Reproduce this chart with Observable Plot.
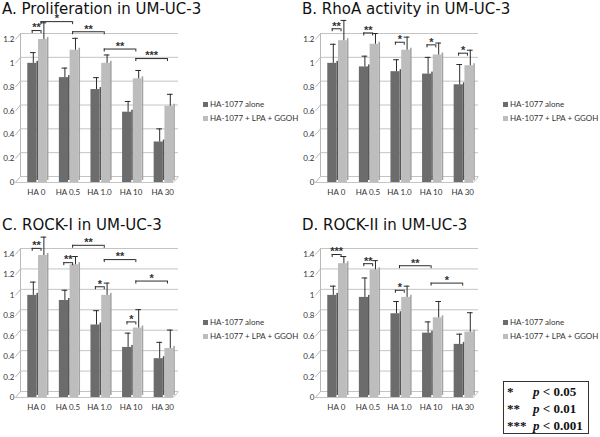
<!DOCTYPE html>
<html><head><meta charset="utf-8">
<script src="https://cdn.jsdelivr.net/npm/d3@7"></script>
<script src="https://cdn.jsdelivr.net/npm/@observablehq/plot@0.6"></script>
<style>
body{margin:0;background:#fff;}
#root{position:relative;width:600px;height:437px;overflow:hidden;background:#fff;}
.title{position:absolute;font-family:"DejaVu Sans",Verdana,sans-serif;font-size:15px;color:#111;white-space:nowrap;line-height:18px;z-index:2;}
.plot{position:absolute;}
.leg{position:absolute;font-family:Lato,sans-serif;font-size:8px;color:#333;white-space:nowrap;line-height:10px;}
.leg .sw{display:inline-block;width:5px;height:5px;margin-right:2px;vertical-align:0px;}
.pbox{position:absolute;left:503px;top:381px;width:84px;height:50px;border:1.5px solid #333;background:#fff;font-family:"Liberation Serif","Times New Roman",serif;font-weight:bold;font-size:13px;color:#111;line-height:17px;padding-top:1px;}
.pbox div{white-space:nowrap;padding-left:3px;}
.pbox .st{display:inline-block;width:26px;}
.pbox i{font-style:italic;}
</style>
</head><body><div id="root"></div>
<script>
const categories = ["HA 0", "HA 0.5", "HA 1.0", "HA 10", "HA 30"];
const seriesNames = ["HA-1077 alone", "HA-1077 + LPA + GGOH"];

const titles = ["A. Proliferation in UM-UC-3", "B. RhoA activity in UM-UC-3", "C. ROCK-I in UM-UC-3", "D. ROCK-II in UM-UC-3"];

const ticksAB = [0, 0.2, 0.4, 0.6, 0.8, 1, 1.2];
const ticksCD = [0, 0.2, 0.4, 0.6, 0.8, 1, 1.2, 1.4];

// A. Proliferation
const profAlone = [1.0, 0.88, 0.78, 0.59, 0.34];
const profAloneErr = [0.09, 0.08, 0.10, 0.09, 0.11];
const profCombo = [1.2, 1.11, 1.0, 0.87, 0.64];
const profComboErr = [0.14, 0.10, 0.07, 0.07, 0.10];
// [fromCategory, fromSeries, toCategory, toSeries, level, stars]
const profSig = [
  ["HA 0", "alone", "HA 0", "combo", 1.275, "**"],
  ["HA 0", "combo", "HA 0.5", "combo", 1.35, "*"],
  ["HA 0.5", "combo", "HA 1.0", "combo", 1.265, "**"],
  ["HA 1.0", "combo", "HA 10", "combo", 1.12, "**"],
  ["HA 10", "combo", "HA 30", "combo", 1.04, "***"]
];

// B. RhoA activity
const rhoAlone = [1.0, 0.97, 0.93, 0.91, 0.82];
const rhoAloneErr = [0.16, 0.09, 0.10, 0.14, 0.17];
const rhoCombo = [1.19, 1.16, 1.11, 1.07, 0.98];
const rhoComboErr = [0.17, 0.09, 0.11, 0.10, 0.13];
const rhoSig = [
  ["HA 0", "alone", "HA 0", "combo", 1.29, "**"],
  ["HA 0.5", "alone", "HA 0.5", "combo", 1.255, "**"],
  ["HA 1.0", "alone", "HA 1.0", "combo", 1.177, "*"],
  ["HA 10", "alone", "HA 10", "combo", 1.155, "*"],
  ["HA 30", "alone", "HA 30", "combo", 1.085, "*"]
];

// C. ROCK-I
const rock1Alone = [1.0, 0.95, 0.71, 0.49, 0.38];
const rock1AloneErr = [0.13, 0.10, 0.14, 0.14, 0.16];
const rock1Combo = [1.39, 1.30, 1.0, 0.68, 0.48];
const rock1ComboErr = [0.18, 0.08, 0.12, 0.18, 0.18];
const rock1Sig = [
  ["HA 0", "alone", "HA 0", "combo", 1.46, "**"],
  ["HA 0.5", "alone", "HA 0.5", "combo", 1.32, "**"],
  ["HA 0.5", "combo", "HA 1.0", "combo", 1.49, "**"],
  ["HA 1.0", "combo", "HA 10", "combo", 1.35, "**"],
  ["HA 1.0", "alone", "HA 1.0", "combo", 1.084, "*"],
  ["HA 10", "alone", "HA 10", "combo", 0.74, "*"],
  ["HA 10", "combo", "HA 30", "combo", 1.14, "*"]
];

// D. ROCK-II
const rock2Alone = [1.0, 0.98, 0.82, 0.63, 0.52];
const rock2AloneErr = [0.09, 0.19, 0.12, 0.11, 0.10];
const rock2Combo = [1.31, 1.25, 0.98, 0.78, 0.64];
const rock2ComboErr = [0.07, 0.09, 0.11, 0.16, 0.19];
const rock2Sig = [
  ["HA 0", "alone", "HA 0", "combo", 1.40, "***"],
  ["HA 0.5", "alone", "HA 0.5", "combo", 1.31, "**"],
  ["HA 1.0", "mid", "HA 10", "mid", 1.29, "**"],
  ["HA 1.0", "alone", "HA 1.0", "combo", 1.05, "*"],
  ["HA 10", "mid", "HA 30", "mid", 1.12, "*"]
];

const pLegend = [["*", "0.05"], ["**", "0.01"], ["***", "0.001"]];

// ---- styling constants ----
const FRONT = ["#6c6c6c", "#bdbdbd"];
const SIDE = ["#555555", "#a3a3a3"];
const barOff = {alone: [-0.27, 0.02], combo: [0.07, 0.35]};
const sideW = 0.05;
const endOff = {alone: -0.13, combo: 0.15, mid: 0.0};

const root = document.getElementById("root");

function panel(opts) {
  const {left, top, title, yMax, yTicks, alone, aloneErr, combo, comboErr, sig} = opts;
  const t = document.createElement("div");
  t.className = "title";
  t.style.left = (left + 2) + "px";
  t.style.top = (top + opts.titleDy) + "px";
  t.textContent = title;
  root.appendChild(t);

  const rows = [];
  categories.forEach((c, i) => {
    rows.push({cat: c, i, s: 0, key: "alone", value: alone[i], err: aloneErr[i]});
    rows.push({cat: c, i, s: 1, key: "combo", value: combo[i], err: comboErr[i]});
  });
  const x1 = d => d.i + barOff[d.key][0];
  const x2 = d => d.i + barOff[d.key][1];
  const xc = d => d.i + (barOff[d.key][0] + barOff[d.key][1]) / 2 + 0.03;

  const brackets = sig.map(([ca, sa, cb, sb, level, stars]) => ({
    xa: categories.indexOf(ca) + endOff[sa],
    xb: categories.indexOf(cb) + endOff[sb],
    level, stars
  }));
  const pxPerUnit = 143 / yMax;
  const tickDepth = 3 / pxPerUnit;
  const wallDepth = 6 / pxPerUnit;
  const ends = brackets.flatMap(b => [{x: b.xa, level: b.level}, {x: b.xb, level: b.level}]);

  const chart = Plot.plot({
    width: 185, height: 200,
    marginLeft: 20, marginRight: 7, marginTop: 39, marginBottom: 18,
    style: {background: "transparent", fontFamily: "Lato, sans-serif", fontSize: "8px", color: "#333"},
    x: {type: "linear", domain: [-0.5, 4.5], ticks: categories.map((c, i) => i), tickFormat: i => categories[i], tickSize: 0, tickPadding: 7, label: null},
    y: {domain: [0, yMax], ticks: yTicks, tickFormat: d => String(+d.toFixed(1)), tickSize: 0, tickPadding: 6, label: null},
    marks: [
      Plot.ruleY(yTicks, {dy: -6, stroke: "#c4c4c4", strokeWidth: 1}),
      Plot.link(yTicks, {x1: -0.66, x2: -0.5, y1: d => d, y2: d => d + wallDepth, stroke: "#b8b8b8"}),
      Plot.ruleX([-0.5], {y1: 0, y2: yMax, dy: -6, stroke: "#b8b8b8"}),
      Plot.ruleY([0], {dx: -5, stroke: "#c4c4c4"}),
      Plot.link([0], {x1: 4.34, x2: 4.5, y1: d => d, y2: d => d + wallDepth, stroke: "#c4c4c4"}),
      Plot.rect(rows, {x1: x2, x2: d => x2(d) + sideW, y1: 0, y2: "value", dy: -2, fill: d => SIDE[d.s]}),
      Plot.rect(rows, {x1, x2, y1: 0, y2: "value", fill: d => FRONT[d.s]}),
      Plot.ruleX(rows, {x: xc, y1: "value", y2: d => d.value + d.err, stroke: "#2a2a2a", strokeWidth: 1}),
      Plot.ruleY(rows, {y: d => d.value + d.err, x1: d => xc(d) - 0.09, x2: d => xc(d) + 0.09, stroke: "#2a2a2a", strokeWidth: 1}),
      Plot.ruleY(brackets, {y: "level", x1: "xa", x2: "xb", stroke: "#2a2a2a", strokeWidth: 1}),
      Plot.ruleX(ends, {x: "x", y1: d => d.level - tickDepth, y2: "level", stroke: "#2a2a2a", strokeWidth: 1}),
      Plot.text(brackets, {x: d => (d.xa + d.xb) / 2, y: "level", text: "stars", dy: -7, lineAnchor: "top", fontSize: 11, fontWeight: "bold", fontFamily: "Liberation Sans, Arial, sans-serif", fill: "#333"})
    ]
  });
  chart.classList.add("plot");
  chart.style.left = left + "px";
  chart.style.top = top + "px";
  root.appendChild(chart);

  const legTop = opts.legTop;
  seriesNames.forEach((name, s) => {
    const l = document.createElement("div");
    l.className = "leg";
    l.style.left = (left + 203) + "px";
    l.style.top = (top + legTop[s] - 5) + "px";
    const sw = document.createElement("span");
    sw.className = "sw";
    sw.style.background = FRONT[s];
    l.appendChild(sw);
    l.appendChild(document.createTextNode(name));
    root.appendChild(l);
  });
}

panel({left: 0, top: 0, titleDy: 0, title: titles[0], yMax: 1.2, yTicks: ticksAB, alone: profAlone, aloneErr: profAloneErr, combo: profCombo, comboErr: profComboErr, sig: profSig, legTop: [104, 118]});
panel({left: 300, top: 0, titleDy: 0, title: titles[1], yMax: 1.2, yTicks: ticksAB, alone: rhoAlone, aloneErr: rhoAloneErr, combo: rhoCombo, comboErr: rhoComboErr, sig: rhoSig, legTop: [104, 118]});
panel({left: 0, top: 215, titleDy: 1, title: titles[2], yMax: 1.4, yTicks: ticksCD, alone: rock1Alone, aloneErr: rock1AloneErr, combo: rock1Combo, comboErr: rock1ComboErr, sig: rock1Sig, legTop: [107, 121]});
panel({left: 300, top: 215, titleDy: 1, title: titles[3], yMax: 1.4, yTicks: ticksCD, alone: rock2Alone, aloneErr: rock2AloneErr, combo: rock2Combo, comboErr: rock2ComboErr, sig: rock2Sig, legTop: [107, 121]});

const box = document.createElement("div");
box.className = "pbox";
pLegend.forEach(([st, p]) => {
  const line = document.createElement("div");
  const s = document.createElement("span");
  s.className = "st";
  s.textContent = st;
  line.appendChild(s);
  const it = document.createElement("i");
  it.textContent = "p";
  line.appendChild(it);
  line.appendChild(document.createTextNode(" < " + p));
  box.appendChild(line);
});
root.appendChild(box);
</script>
</body></html>
